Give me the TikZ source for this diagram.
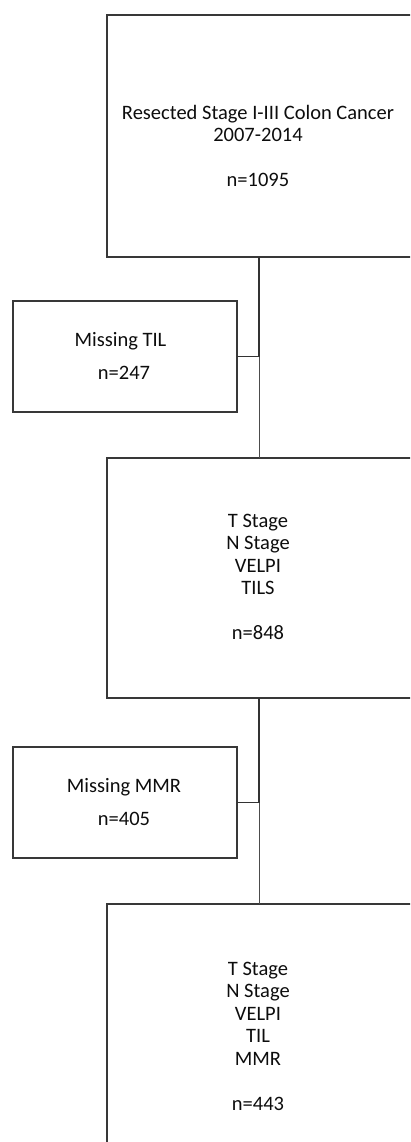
\documentclass[tikz,border=0pt]{standalone}
\usepackage{fontspec}
\setmainfont{Carlito}
\begin{document}
\begin{tikzpicture}[x=1pt,y=-1pt,
  boxstyle/.style={draw=black!78,line width=1.8pt,rectangle,inner sep=0pt,outer sep=0pt},
  txt/.style={align=center,inner sep=0pt,font=\fontsize{20.5}{22.5}\selectfont,text=black!95},
  thickline/.style={draw=black!80,line width=1.8pt},
  thinline/.style={draw=black!70,line width=0.9pt}]
\useasboundingbox (0,0) rectangle (410,1142);
\clip (0,0) rectangle (410,1142);
% main boxes
\node[boxstyle,minimum width=330pt,minimum height=242pt] (b1) at (272,136) {};
\node[boxstyle,minimum width=330pt,minimum height=240pt] (b2) at (272,578) {};
\node[boxstyle,minimum width=330pt,minimum height=250pt] (b3) at (272,1029) {};
% exclusion boxes
\node[boxstyle,minimum width=224pt,minimum height=111pt] (e1) at (125,356.5) {};
\node[boxstyle,minimum width=224pt,minimum height=111pt] (e2) at (125,802.5) {};
% texts
\node[txt] (t1) at (258,146) {Resected Stage I-III Colon Cancer\\2007-2014\\[22.5pt]n=1095};
\node[txt] (t2) at (258,577) {T Stage\\N Stage\\VELPI\\TILS\\[22.5pt]n=848};
\node[txt] (t3) at (258,1036) {T Stage\\N Stage\\VELPI\\TIL\hspace*{9pt}\\MMR\\[22.5pt]n=443};
\node[txt] (te1) at (124,356) {Missing TIL\hspace*{7pt}\\[11pt]n=247};
\node[txt] (te2) at (124,802) {Missing MMR\\[11pt]n=405};
% connectors
\coordinate (j1) at (259,356.5);
\coordinate (j2) at (259,802.5);
\draw[thickline] (j1 |- b1.south) -- (j1);
\draw[thinline] (j1) -- (j1 |- b2.north);
\draw[thickline] (e1.east) -- (j1);
\draw[thickline] (j2 |- b2.south) -- (j2);
\draw[thinline] (j2) -- (j2 |- b3.north);
\draw[thickline] (e2.east) -- (j2);
\end{tikzpicture}
\end{document}
